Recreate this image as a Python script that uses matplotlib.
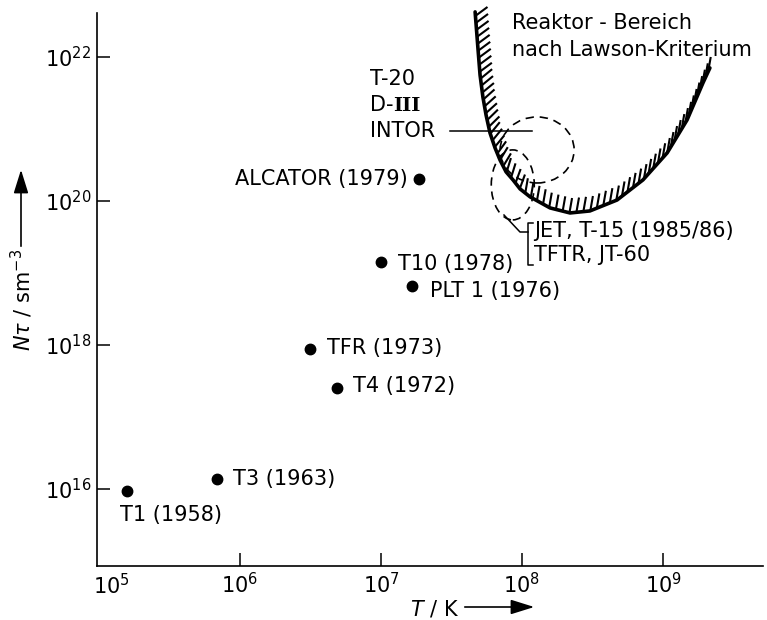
import numpy as np
import matplotlib
matplotlib.use("Agg")
import matplotlib.pyplot as plt
from matplotlib.patches import Ellipse
from matplotlib.lines import Line2D
from matplotlib.collections import LineCollection
from matplotlib.transforms import IdentityTransform

plt.rcParams['font.family'] = 'DejaVu Sans'
plt.rcParams['mathtext.default'] = 'regular'

# Tokamak-Experimente: Temperatur T / K und N*tau / s m^-3
namen = ["T1 (1958)", "T3 (1963)", "TFR (1973)", "T4 (1972)",
         "T10 (1978)", "PLT 1 (1976)", "ALCATOR (1979)"]
T_exp = [1.58e5, 6.9e5, 3.16e6, 4.9e6, 1.0e7, 1.66e7, 1.86e7]
Ntau_exp = [9.3e15, 1.38e16, 8.7e17, 2.5e17, 1.41e19, 6.5e18, 2.04e20]

# Lawson-Kurve (Grenze des Reaktorbereichs)
T_lawson = [4.65e7, 4.88e7, 5.04e7, 5.28e7, 5.56e7, 5.93e7, 6.44e7, 6.98e7,
            7.71e7, 8.63e7, 9.68e7, 1.14e8, 1.58e8, 2.19e8, 3.03e8, 4.72e8,
            7.21e8, 1.07e9, 1.48e9, 1.92e9, 2.15e9]
Ntau_lawson = [4.22e22, 1.25e22, 5.62e21, 2.78e21, 1.56e21, 8.79e20, 5.45e20, 3.71e20,
               2.53e20, 1.96e20, 1.47e20, 1.14e20, 8.0e19, 6.81e19, 7.26e19, 1.03e20,
               1.96e20, 4.65e20, 1.33e21, 4.36e21, 7.03e21]

# geplante Anlagen (gestrichelte Bereiche)
T_intor, Ntau_intor = 1.28e8, 5.1e20
T_jet, Ntau_jet = 8.6e7, 1.67e20

x_ticks = [1e6, 1e7, 1e8, 1e9]
x_ticklabels = ["$10^6$", "$10^7$", "$10^8$", "$10^9$"]
y_ticks = [1e16, 1e18, 1e20, 1e22]
y_ticklabels = ["$10^{16}$", "$10^{18}$", "$10^{20}$", "$10^{22}$"]

# Offsets der Beschriftungen (Punkte)
offs = [(-5, -17), (11, 0), (12, 1), (11, 2), (12, -1), (13, -3), (-8, 0)]

W, H = 767, 620
fs = 15

def fp(x, y):
    # Pixel (von oben links) -> Figure-Anteil
    return (x / W, 1 - y / H)

fig = plt.figure(figsize=(W / 100, H / 100), dpi=100)
ax = fig.add_axes([97 / W, (H - 566) / H, 666 / W, 553 / H])
ax.set_xscale('log')
ax.set_yscale('log')
ax.set_xlim(10**4.986, 10**9.709)
ax.set_ylim(10**14.93, 10**22.61)
for s in ['top', 'right']:
    ax.spines[s].set_visible(False)
for s in ['left', 'bottom']:
    ax.spines[s].set_linewidth(1.2)
ax.minorticks_off()
ax.set_xticks(x_ticks)
ax.set_xticklabels(x_ticklabels)
ax.set_yticks(y_ticks)
ax.set_yticklabels(y_ticklabels)
ax.tick_params(direction='in', length=9.5, width=1.1, labelsize=fs, pad=4)

# Messpunkte
ax.plot(T_exp, Ntau_exp, 'o', color='black', markersize=7.5, linestyle='none')
for i in range(len(namen)):
    ha = 'right' if offs[i][0] < -6 else 'left'
    ax.annotate(namen[i], (T_exp[i], Ntau_exp[i]), xytext=offs[i],
                textcoords='offset points', ha=ha, va='center', fontsize=fs)

# Lawson-Kurve mit Schraffur
ax.plot(T_lawson, Ntau_lawson, color='black', lw=2.6, clip_on=False,
        solid_capstyle='round', solid_joinstyle='round')
pts = ax.transData.transform(np.column_stack([T_lawson, Ntau_lawson]))
seg = np.diff(pts, axis=0)
seglen = np.hypot(seg[:, 0], seg[:, 1])
s = np.concatenate([[0], np.cumsum(seglen)])
sh = np.arange(4, s[-1] - 2, 7.0)
hx = np.interp(sh, s, pts[:, 0])
hy = np.interp(sh, s, pts[:, 1])
idx = np.clip(np.searchsorted(s, sh) - 1, 0, len(seg) - 1)
tx = seg[idx, 0] / seglen[idx]
ty = seg[idx, 1] / seglen[idx]
phi = np.degrees(np.arctan2(tx, -ty))
ang = np.radians(np.minimum(phi + 32, 80))
L = 15
hatch = [[(x0, y0), (x0 + L * np.cos(a), y0 + L * np.sin(a))]
         for x0, y0, a in zip(hx, hy, ang)]
lc = LineCollection(hatch, colors='black', linewidths=1.5,
                    transform=IdentityTransform(), clip_on=False)
fig.add_artist(lc)

# gestrichelte Bereiche
for (tc, nc, w, h) in [(T_intor, Ntau_intor, 74, 66), (T_jet, Ntau_jet, 43, 70)]:
    cx, cy = ax.transData.transform((tc, nc))
    e = Ellipse((cx, cy), w, h, fill=False, ec='black', lw=1.2,
                ls=(0, (5, 3.5)), transform=IdentityTransform())
    fig.add_artist(e)

# Texte
fig.text(*fp(512, 23), "Reaktor - Bereich", fontsize=fs, va='center')
fig.text(*fp(512, 50), "nach Lawson-Kriterium", fontsize=fs, va='center')
fig.text(*fp(370, 79), "T-20", fontsize=fs, va='center')
t_d = fig.text(*fp(370, 105), "D-", fontsize=fs, va='center')
ax.annotate("III", xy=(1, 0.02), xycoords=t_d, fontsize=fs - 1,
            fontfamily='DejaVu Serif', fontweight='bold', va='bottom', ha='left',
            annotation_clip=False)
fig.text(*fp(370, 131), "INTOR", fontsize=fs, va='center')
fig.add_artist(Line2D([450 / W, 532 / W], [1 - 131 / H, 1 - 131 / H],
                      color='black', lw=1.1, transform=fig.transFigure))

# Klammer JET / TFTR
bx = [504, 520, 528]
by = [215, 232, 232]
fig.add_artist(Line2D([x / W for x in bx], [1 - y / H for y in by],
                      color='black', lw=1.1, transform=fig.transFigure))
fig.add_artist(Line2D([533 / W, 528 / W, 528 / W, 533 / W],
                      [1 - 223 / H, 1 - 223 / H, 1 - 265 / H, 1 - 265 / H],
                      color='black', lw=1.1, transform=fig.transFigure))
fig.text(*fp(534, 231), "JET, T-15 (1985/86)", fontsize=fs, va='center')
fig.text(*fp(534, 255), "TFTR, JT-60", fontsize=fs, va='center')

# Achsenbeschriftungen mit Pfeilen
fig.text(*fp(111, 586), "$10^5$", fontsize=fs, ha='center', va='center')
fig.text(*fp(22, 300), r"$\mathit{N\tau}$ / sm$^{-3}$", fontsize=fs,
         rotation=90, ha='center', va='center')
ax.annotate("", xy=fp(21, 167), xytext=fp(21, 249), xycoords='figure fraction',
            textcoords='figure fraction',
            arrowprops=dict(arrowstyle='-|>,head_length=0.8,head_width=0.25',
                            lw=1.2, color='black', mutation_scale=18))
fig.text(*fp(435, 609), r"$\mathit{T}$ / K", fontsize=fs, ha='center', va='center')
ax.annotate("", xy=fp(537, 607), xytext=fp(462, 607), xycoords='figure fraction',
            textcoords='figure fraction',
            arrowprops=dict(arrowstyle='-|>,head_length=0.8,head_width=0.25',
                            lw=1.2, color='black', mutation_scale=18))

fig.savefig('out.png', dpi=100)
